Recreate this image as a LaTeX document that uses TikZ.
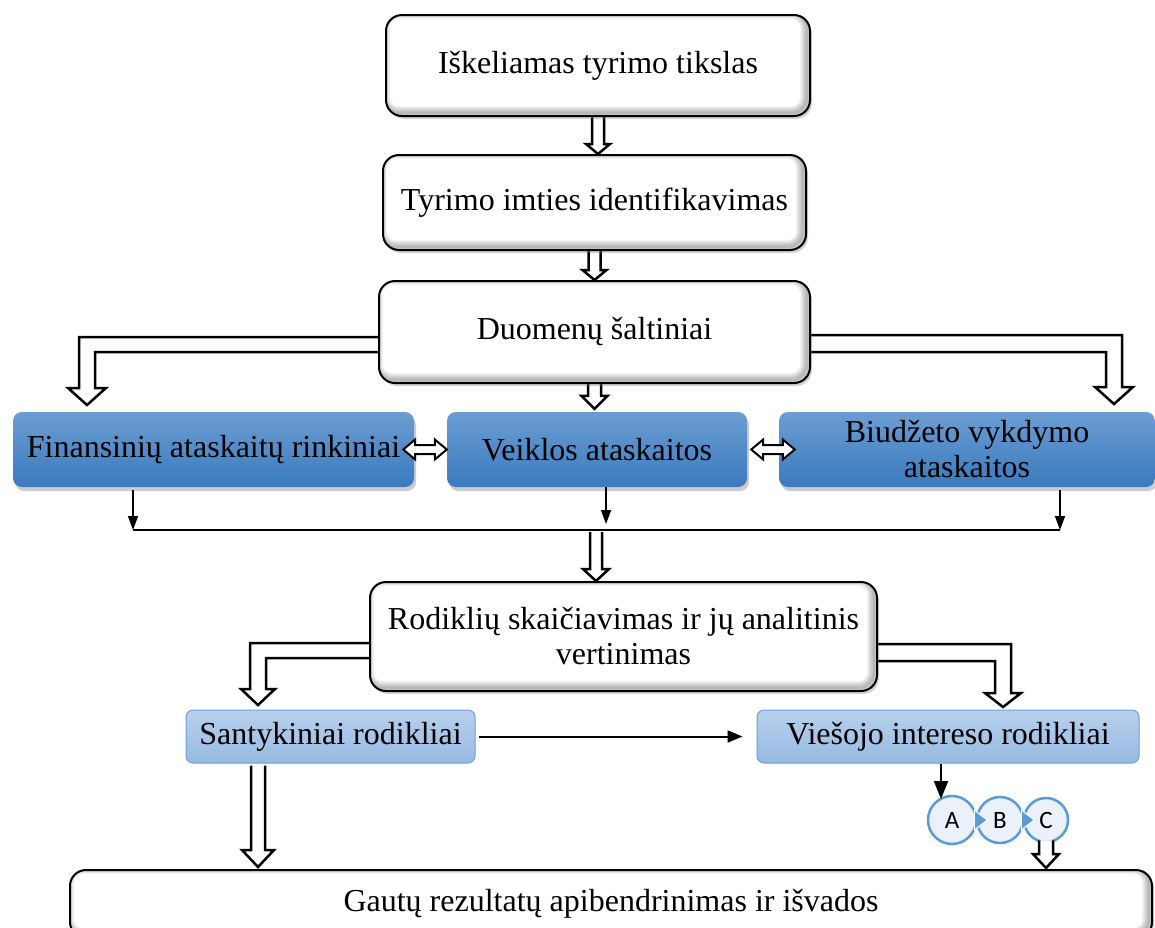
\documentclass[tikz,border=0pt]{standalone}
\usepackage{fontspec}
\setmainfont{Liberation Serif}
\newfontfamily\cfont{Carlito}
\usetikzlibrary{calc,shadows,arrows.meta}
\definecolor{blueTop}{RGB}{108,157,210}
\definecolor{blueBot}{RGB}{58,122,190}
\definecolor{lightTop}{RGB}{184,208,236}
\definecolor{lightBot}{RGB}{150,186,226}
\definecolor{lightBorder}{RGB}{110,160,215}
\definecolor{circFill}{RGB}{234,241,250}
\definecolor{circBorder}{RGB}{91,155,213}
\pgfdeclarelayer{bg}
\pgfsetlayers{bg,main}
\tikzset{
  wbox/.style={draw=black, line width=2pt, fill=white, rounded corners=16pt,
    inner sep=0pt, align=center,
    drop shadow={shadow xshift=2pt, shadow yshift=-3pt, opacity=0.35},
    path picture={
      \foreach \w in {2,4,...,14} {
        \draw[black, opacity=0.045, line width=\w pt, rounded corners=16pt]
          ($(path picture bounding box.south west)+(-3,-3)$) rectangle
          ($(path picture bounding box.north east)+(-3,-3)$);}
    }},
  bluebox/.style={rounded corners=9pt, top color=blueTop, bottom color=blueBot,
    draw=none, inner sep=0pt, align=center,
    drop shadow={shadow xshift=2pt, shadow yshift=-4pt, opacity=0.4}},
  lightbox/.style={rounded corners=7pt, top color=lightTop, bottom color=lightBot,
    draw=lightBorder, line width=1pt, inner sep=0pt, align=center},
  circ/.style={circle, draw=circBorder, line width=2.5pt, fill=circFill,
    inner sep=0pt, font=\cfont\fontsize{25}{25}\selectfont},
  hollow/.style={draw=black, fill=white, line width=2.5pt, line join=miter},
  thinarrow/.style={line width=1.5pt, -{Triangle[length=14pt,width=10pt]}},
}
\newcommand\vhollow[5]{%
  \draw[hollow] let \p1=#1, \p2=#2 in
   ({\x1-#3},\y1) -- ({\x1-#3},{\y2+#5}) -- ({\x1-#4},{\y2+#5}) -- (\x1,\y2)
   -- ({\x1+#4},{\y2+#5}) -- ({\x1+#3},{\y2+#5}) -- ({\x1+#3},\y1);}
\newcommand\hdouble[5]{%
  \draw[hollow, line width=2pt] let \p1=#1, \p2=#2 in
   (\x1,\y1) -- ({\x1+#5},{\y1+#4}) -- ({\x1+#5},{\y1+#3}) -- ({\x2-#5},{\y1+#3})
   -- ({\x2-#5},{\y1+#4}) -- (\x2,\y1) -- ({\x2-#5},{\y1-#4}) -- ({\x2-#5},{\y1-#3})
   -- ({\x1+#5},{\y1-#3}) -- ({\x1+#5},{\y1-#4}) -- cycle;}
\begin{document}
\begin{tikzpicture}[x=1pt, y=-1pt, font=\fontsize{32}{35}\selectfont]
\useasboundingbox (0,0) rectangle (1155,927);

% top white boxes
\node[wbox, minimum width=424pt, minimum height=101pt] (b1) at (598,65.5) {Iškeliamas tyrimo tikslas};
\node[wbox, minimum width=423pt, minimum height=95pt] (b2) at (594.5,202.5) {Tyrimo imties identifikavimas};
\node[wbox, minimum width=431pt, minimum height=102pt] (b3) at (594.5,332) {Duomenų šaltiniai};

% blue boxes
\node[bluebox, minimum width=401pt, minimum height=75pt] (fin) at (213.5,449.5) {Finansinių ataskaitų rinkiniai};
\node[bluebox, minimum width=300pt, minimum height=75pt] (veik) at (597,449.5) {Veiklos ataskaitos};
\node[bluebox, minimum width=376pt, minimum height=75pt] (biud) at (967,449.5) {Biudžeto vykdymo\\ataskaitos};

% analysis box
\node[wbox, minimum width=507pt, minimum height=109pt] (rod) at (623.5,636.5) {Rodiklių skaičiavimas ir jų analitinis\\vertinimas};

% light boxes
\node[lightbox, minimum width=289pt, minimum height=53pt] (sant) at (330.5,736.5) {Santykiniai rodikliai};
\node[lightbox, minimum width=382pt, minimum height=53pt] (vies) at (948,736.5) {Viešojo intereso rodikliai};

% circles
\node[circ, minimum size=48pt] (A) at (952,820) {A};
\node[circ, minimum size=46pt] (B) at (1000,820) {B};
\node[circ, minimum size=44pt] (C) at (1046,820) {C};
\filldraw[circBorder, draw=white, line width=1pt] ($(A.east)+(-3,-10)$) -- ($(A.east)+(10,0)$) -- ($(A.east)+(-3,10)$) -- cycle;
\filldraw[circBorder, draw=white, line width=1pt] ($(B.east)+(-3,-10)$) -- ($(B.east)+(10,0)$) -- ($(B.east)+(-3,10)$) -- cycle;

% bottom box
\node[wbox, minimum width=1082pt, minimum height=68pt] (bot) at (611,904) {Gautų rezultatų apibendrinimas ir išvados};

% hollow arrows behind boxes
\begin{pgfonlayer}{bg}
\vhollow{(b1.south)}{(b2.north -| b1.south)}{6pt}{12pt}{10pt}
\vhollow{(b2.south)}{(b3.north -| b2.south)}{6pt}{12pt}{10pt}
\vhollow{(b3.south)}{($(veik.north -| b3.south)+(0,-3)$)}{6.5pt}{13pt}{13pt}
\draw[hollow] ($(b3.west)+(0,5)$) -- (79,337) -- (79,388) -- (68,388) -- (87,405)
  -- (106,388) -- (95,388) -- (95,352) -- ($(b3.west)+(0,20)$);
\draw[hollow] ($(b3.east)+(0,3)$) -- (1122,335) -- (1122,387) -- (1133,387) -- (1114,404)
  -- (1095,387) -- (1106,387) -- (1106,352) -- ($(b3.east)+(0,20)$);
\draw[hollow] ($(rod.west)+(0,6.5)$) -- (250,643) -- (250,689) -- (241,689) -- (258,705)
  -- (275,689) -- (266,689) -- (266,658) -- ($(rod.west)+(0,21.5)$);
\draw[hollow] ($(rod.east)+(0,7.5)$) -- (1011,644) -- (1011,693) -- (1021,693) -- (1003,707)
  -- (985,693) -- (995,693) -- (995,661) -- ($(rod.east)+(0,24.5)$);
\end{pgfonlayer}

% double arrows between blue boxes
\hdouble{($(fin.east)+(-11,0)$)}{(veik.west)}{4.5pt}{10pt}{12pt}
\hdouble{($(veik.east)+(4,0)$)}{($(biud.west)+(16,0)$)}{4.5pt}{10pt}{12pt}

% collector line
\coordinate (cl) at (133,530);
\coordinate (cm) at (606,530);
\coordinate (cr) at (1060,530);
\coordinate (cj) at (596,532);
\draw[line width=2.5pt] (cl) -- (cr);
\draw[thinarrow] ($(cl |- fin.south)+(0,3)$) -- (cl);
\draw[thinarrow] (cm |- veik.south) -- ($(cm)+(0,-6)$);
\draw[thinarrow] ($(cr |- biud.south)+(0,3)$) -- (cr);
\vhollow{(cj)}{(rod.north -| cj)}{6pt}{13pt}{12pt}

% lower connectors
\draw[line width=2pt, -{Triangle[length=15pt,width=12pt]}] ($(sant.east)+(3,0)$) -- ($(vies.west)+(-14,0)$);
\coordinate (av) at (941,799);
\draw[line width=2pt, -{Triangle[length=18pt,width=14pt]}] (av |- vies.south) -- (av);
\coordinate (sx) at (258,0);
\vhollow{($(sant.south -| sx)+(0,2)$)}{($(bot.north -| sx)+(0,-2)$)}{7pt}{16pt}{17pt}
\vhollow{($(C.south)+(0,-3)$)}{($(bot.north -| C.south)+(0,-1)$)}{7pt}{13pt}{14pt}
\end{tikzpicture}
\end{document}
